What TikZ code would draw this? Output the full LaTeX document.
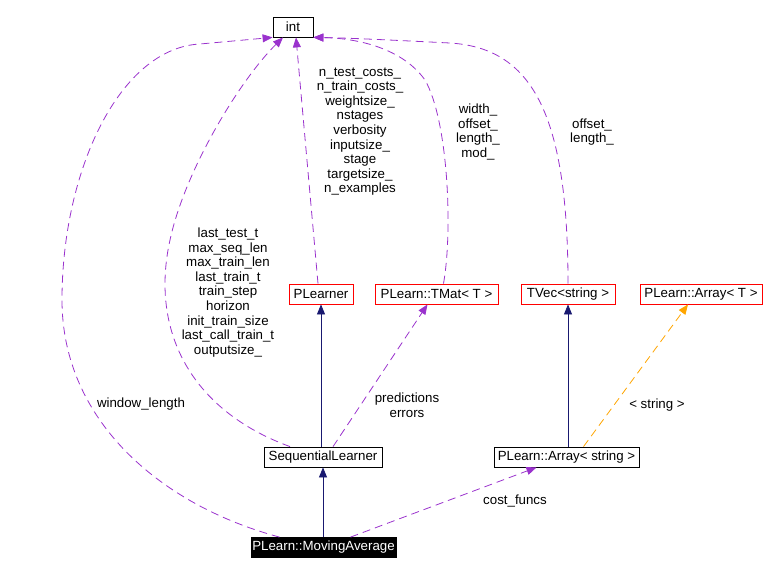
\documentclass[tikz,border=0pt]{standalone}
\usepackage{fontspec}
\setmainfont{Liberation Sans}
\usetikzlibrary{arrows.meta}
\definecolor{UsePurple}{RGB}{154, 50, 205}
\definecolor{InheritNavy}{RGB}{25, 25, 112}
\definecolor{TmplOrange}{RGB}{255, 165, 0}

\begin{document}
\begin{tikzpicture}[x=1pt, y=-1pt, font=\fontsize{13.3}{14.6}\selectfont,
    cls/.style={draw=black, line width=0.8pt, inner sep=0pt, minimum height=20pt},
    undoc/.style={cls, draw=red},
    inherit/.style={InheritNavy, line width=0.8pt, -{Triangle[length=10pt, width=8pt]}},
    usage/.style={UsePurple, line width=0.8pt, dash pattern=on 8pt off 5pt, -{Triangle[length=10pt, width=8pt]}},
    tmpl/.style={usage, TmplOrange},
    lbl/.style={align=center, inner sep=0pt}]
    \useasboundingbox (0,0) rectangle (770,574);

    % classes
    \node[cls, minimum width=40pt] (intT) at (293,27) {int};
    \node[undoc, minimum width=64pt] (plearner) at (321,294) {PLearner};
    \node[undoc, minimum width=123pt] (tmat) at (436.5,294) {PLearn::TMat< T >};
    \node[undoc, minimum width=94pt] (tvec) at (568,294) {TVec<string >};
    \node[undoc, minimum width=122pt] (arrT) at (701,294) {PLearn::Array< T >};
    \node[cls, minimum width=118pt] (seqlearner) at (323,457) {SequentialLearner};
    \node[cls, minimum width=145pt] (arrstr) at (566.5,457) {PLearn::Array< string >};
    \node[cls, fill=black, text=white, minimum width=145pt] (movavg) at (323.5,547.5) {PLearn::MovingAverage};

    % inheritance
    \draw[inherit] (movavg.north -| seqlearner) -- (seqlearner.south);
    \draw[inherit] (seqlearner.north -| plearner) -- (plearner.south);
    \draw[inherit] (arrstr.north -| tvec) -- (tvec.south);

    % template instance
    \draw[tmpl] ([xshift=17pt]arrstr.north) -- ([xshift=-13pt]arrT.south);

    % members
    \draw[usage] ([xshift=10pt]seqlearner.north) -- ([xshift=-9pt]tmat.south);
    \draw[usage] ([xshift=27pt]movavg.north) -- ([xshift=-30pt]arrstr.south);
    \draw[usage] ([xshift=-3pt]plearner.north) -- ([xshift=3pt]intT.south);
    \draw[usage] ([xshift=7pt]tmat.north) .. controls (453,230) and (448,120) .. (425,80)
        .. controls (400,45) and (350,38) .. (intT.south east);
    \draw[usage] (tvec.north) .. controls (568,110) and (530,48) .. (450,43)
        .. controls (390,40) and (350,38) .. (intT.south east);
    \draw[usage] ([xshift=-33pt]seqlearner.north) .. controls (190,410) and (150,330) .. (170,240)
        .. controls (185,170) and (240,80) .. ([xshift=-10pt]intT.south);
    \draw[usage] ([xshift=-44pt]movavg.north) .. controls (160,505) and (62,420) .. (62,300)
        .. controls (62,170) and (120,48) .. (200,44) -- (intT.south west);

    % member labels
    \node[lbl] (lblpl) at (360,131.5) {n\_test\_costs\_\\n\_train\_costs\_\\weightsize\_\\nstages\\verbosity\\inputsize\_\\stage\\targetsize\_\\n\_examples};
    \node[lbl] (lbltmat) at (478,132) {width\_\\offset\_\\length\_\\mod\_};
    \node[lbl] (lbltvec) at (592,132) {offset\_\\length\_};
    \node[lbl] (lblseq) at (228,292.5) {last\_test\_t\\max\_seq\_len\\max\_train\_len\\last\_train\_t\\train\_step\\horizon\\init\_train\_size\\last\_call\_train\_t\\outputsize\_};
    \node[lbl] (lblwin) at (141,404) {window\_length};
    \node[lbl] (lblpred) at (407,405) {predictions\\errors};
    \node[lbl] (lblstr) at (657,405) {< string >};
    \node[lbl] (lblcost) at (515,501) {cost\_funcs};
\end{tikzpicture}
\end{document}
